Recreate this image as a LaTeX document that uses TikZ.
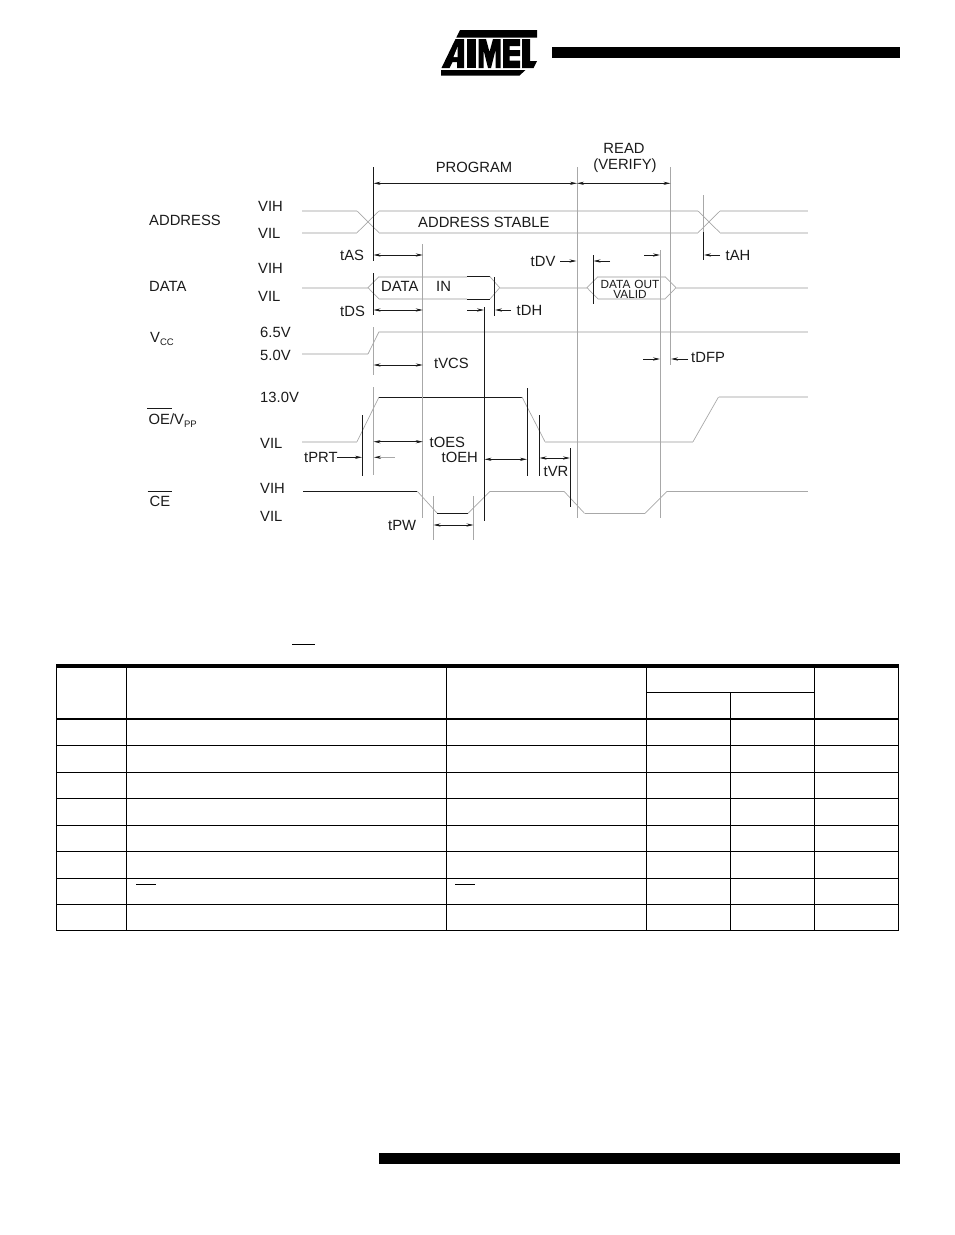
\documentclass[tikz,border=0pt]{standalone}
\usepackage{fontspec}
\setmainfont{Liberation Sans}
\usetikzlibrary{arrows.meta}
\definecolor{lt}{HTML}{DADADA}
\definecolor{md}{HTML}{A8A8A8}
\definecolor{ink}{HTML}{1A1A1A}
\tikzset{
  lbl/.style={anchor=west,inner sep=0pt,text=ink,font=\fontsize{14.8}{14.8}\selectfont},
  lblc/.style={anchor=center,inner sep=0pt,text=ink,font=\fontsize{14.8}{14.8}\selectfont},
  small/.style={anchor=center,inner sep=0pt,text=ink,font=\fontsize{11.8}{11.8}\selectfont},
  soft/.style={draw=lt,line width=1.9pt},
  thin grey/.style={draw=md,line width=0.7pt},
  guide/.style={draw=md,line width=0.9pt},
  hard/.style={draw=ink,line width=0.9pt},
  dim/.style={draw=ink,line width=0.7pt,{Stealth[length=7pt,width=3.2pt]}-{Stealth[length=7pt,width=3.2pt]}},
  dimr/.style={draw=ink,line width=0.7pt,-{Stealth[length=7pt,width=3.2pt]}},
  rule/.style={draw=black,line width=1pt},
}
\begin{document}
\begin{tikzpicture}[x=1pt,y=-1pt]
\useasboundingbox (0,0) rectangle (954,1235);
% header / footer bars
\fill (552,47.3) rectangle (900,58.3);
\fill (379,1153.3) rectangle (900,1164.3);
% logo
\fill (460,30)--(537,30)--(537,37.5)--(456.3,37.5)--cycle;
\fill (455.5,39)--(464,39)--(464,68)--(457,68)--(457,62)--(452.5,62)--(449.5,68)--(441.5,68)--cycle;
\fill[white] (457.5,47)--(457.5,57)--(453.5,57)--cycle;
\fill (466.5,39)--(476,39)--(476,68)--(466.5,68)--cycle;
\fill (478.5,39)--(486,39)--(489.5,52)--(493,39)--(500.5,39)--(500.5,68)--(495.5,68)--(495.5,50)--(491,68)--(488,68)--(483.5,50)--(483.5,68)--(478.5,68)--cycle;
\fill (503,39)--(520,39)--(520,46)--(509.5,46)--(509.5,50)--(520,50)--(520,56)--(509.5,56)--(509.5,60.5)--(520,60.5)--(520,68)--(503,68)--cycle;
\fill (522,39)--(530,39)--(530,61)--(537,61)--(533.5,68)--(522,68)--cycle;
\fill (441,70)--(525.5,70)--(519.5,75.5)--(441,75.5)--cycle;

% ---- signals
% address
\draw[soft] (302,211)--(357,211) (302,232.7)--(357,232.7);
\draw[thin grey] (357,211)--(379,232.7) (357,232.7)--(379,211);
\draw[soft] (379,211)--(698,211) (379,232.7)--(698,232.7);
\draw[thin grey] (698,211)--(720,232.7) (698,232.7)--(720,211);
\draw[soft] (720,211)--(807.5,211) (720,232.7)--(807.5,232.7);
% data
\draw[soft] (302,287.7)--(368,287.7);
\draw[thin grey] (379,276.7)--(368,287.7)--(379,299);
\draw[soft] (379,276.7)--(467,276.7) (379,299)--(467,299);
\draw[hard] (467,276.7)--(490,276.7) (467,299)--(490,299);
\draw[thin grey] (490,276.7)--(499.7,287.7)--(490,299);
\draw[soft] (499.7,287.7)--(587,287.7);
\draw[thin grey] (598,276.7)--(587,287.7)--(598,299);
\draw[soft] (598,276.7)--(665,276.7) (598,299)--(665,299);
\draw[thin grey] (665,276.7)--(676,287.7)--(665,299);
\draw[soft] (676,287.7)--(807.5,287.7);
% vcc
\draw[soft] (302,354)--(368,354);
\draw[thin grey] (368,354)--(379,331.7);
\draw[soft] (379,331.7)--(807.5,331.7);
% oe
\draw[soft] (302,441.7)--(357,441.7);
\draw[thin grey] (357,441.7)--(379,397);
\draw[hard] (379,397)--(522,397);
\draw[thin grey] (522,397)--(545,441.7);
\draw[soft] (545,441.7)--(693,441.7);
\draw[thin grey] (693,441.7)--(718.5,397);
\draw[soft] (718.5,397)--(807.5,397);
% ce
\draw[hard] (303,491.3)--(417.3,491.3);
\draw[thin grey] (417.3,491.3)--(437.3,513.3);
\draw[hard] (437.3,513.3)--(468,513.3);
\draw[thin grey] (468,513.3)--(490,491.3);
\draw[guide] (490,491.3)--(564,491.3);
\draw[thin grey] (564,491.3)--(584.5,513.3);
\draw[guide] (584.5,513.3)--(645,513.3);
\draw[thin grey] (645,513.3)--(667,491.3);
\draw[guide] (667,491.3)--(807.5,491.3);

% ---- guides
\draw[hard] (373.5,167)--(373.5,261) (373.5,273)--(373.5,315);
\draw[guide] (373.5,327)--(373.5,375) (373.5,387)--(373.5,475);
\draw[guide] (422.8,244)--(422.8,518);
\draw[hard] (484.5,307)--(484.5,521);
\draw[hard] (494.5,277)--(494.5,316);
\draw[guide] (577,167)--(577,518);
\draw[guide] (670.5,167)--(670.5,365);
\draw[guide] (660.5,250)--(660.5,518);
\draw[hard] (593,255)--(593,304);
\draw[guide] (703.5,195)--(703.5,232);
\draw[hard] (703.5,232)--(703.5,260);
\draw[hard] (362.5,415)--(362.5,476);
\draw[hard] (527,388)--(527,476);
\draw[hard] (539.5,415)--(539.5,476);
\draw[hard] (570,448)--(570,507);
\draw[guide] (433.5,496)--(433.5,539.5);
\draw[guide] (473.5,496)--(473.5,540);

% ---- dimensions
\draw[dim] (373.5,183.3)--(577,183.3);
\draw[dim] (577,183.3)--(670.5,183.3);
\draw[dim] (373.5,255)--(422.8,255);
\draw[dim] (373.5,310)--(422.8,310);
\draw[dimr] (467,310)--(484,310);
\draw[dimr] (511,310)--(495,310);
\draw[dimr] (560,261)--(576.5,261);
\draw[dimr] (610,261)--(593.5,261);
\draw[dimr] (644,255)--(660,255);
\draw[dimr] (720,255)--(704,255);
\draw[dim] (373.5,365)--(422.8,365);
\draw[dimr] (643,359)--(660,359);
\draw[dimr] (688,359)--(671,359);
\draw[dim] (373.5,441.7)--(422.8,441.7);
\draw[dim] (484.5,459.3)--(527,459.3);
\draw[dim] (539.5,458)--(570,458);
\draw[dimr] (337,457.3)--(362,457.3);
\draw[draw=md,line width=0.7pt,-{Stealth[length=7pt,width=3.2pt,color=ink]}] (395,457.3)--(374,457.3);
\draw[dim] (433.5,525)--(473.5,525);

% ---- labels
\node[lblc] (lprog) at (474,167) {PROGRAM};
\node[lblc] (lread) at (624,148.5) {READ};
\node[lblc] (lver) at (625,165.5) {(VERIFY)};
\node[lbl] (laddr) at (149,220) {ADDRESS};
\node[lbl] (vih1) at (258,206) {VIH};
\node[lbl] (vil1) at (258,233) {VIL};
\node[lbl] (vih2) at (258,268.5) {VIH};
\node[lbl] (vil2) at (258,296) {VIL};
\node[lbl] (ldata) at (149,286.5) {DATA};
\node[lbl] (lvcc) at (150,338.5) {V\raisebox{-3pt}{\fontsize{9.5}{9.5}\selectfont CC}};
\node[lbl] (v65) at (260,332) {6.5V};
\node[lbl] (v50) at (260,355) {5.0V};
\node[lbl] (v13) at (260,397.5) {13.0V};
\node[lbl] (loe) at (148.5,421) {OE/V\raisebox{-3pt}{\fontsize{9.5}{9.5}\selectfont PP}};
\node[lbl] (vil3) at (260,443) {VIL};
\node[lbl] (lce) at (149.5,501) {CE};
\node[lbl] (vih4) at (260,488.5) {VIH};
\node[lbl] (vil4) at (260,516) {VIL};
\draw[draw=ink,line width=0.7pt] (147,408.3)--(171.7,408.3) (147.5,491.3)--(172,491.3);
\node[lbl] (tas) at (340,255) {tAS};
\node[lbl] (tds) at (340,311) {tDS};
\node[lbl] (tvcs) at (434,363) {tVCS};
\node[lbl] (toes) at (429.5,442.5) {tOES};
\node[lbl] (toeh) at (441.5,457.5) {tOEH};
\node[lbl] (tprt) at (304,457.5) {tPRT};
\node[lbl] (tpw) at (388,525) {tPW};
\node[lbl] (tvr) at (543.5,471) {tVR};
\node[lbl] (tdh) at (516.5,310.5) {tDH};
\node[lbl] (tah) at (725.5,255.5) {tAH};
\node[lbl] (tdv) at (530.5,261) {tDV};
\node[lbl] (tdfp) at (691,357) {tDFP};
\node[lbl] (lstable) at (418,222) {ADDRESS STABLE};
\node[lbl] (ldin) at (381,286.5) {DATA};
\node[lbl] (lin) at (436,286.5) {IN};
\node[small] (ldo1) at (630,284) {DATA\hspace{4pt}OUT};
\node[small] (ldo2) at (630,294) {VALID};

% ---- table
\fill (56,664.3) rectangle (898.5,667.7);
\draw[rule] (56.5,664.5)--(56.5,930.5) (126.5,667)--(126.5,930.5) (446.5,667)--(446.5,930.5) (646.5,667)--(646.5,930.5) (814.5,667)--(814.5,930.5) (898.5,664.5)--(898.5,930.5);
\draw[rule] (730.5,692.3)--(730.5,930.5);
\draw[rule] (646.5,692.3)--(814.5,692.3);
\draw[draw=black,line width=2pt] (56,719)--(899,719);
\draw[rule] (56,745.3)--(899,745.3) (56,772)--(899,772) (56,798.3)--(899,798.3) (56,825.3)--(899,825.3) (56,851.3)--(899,851.3) (56,878.3)--(899,878.3) (56,904.3)--(899,904.3) (56,930.3)--(899,930.3);
\draw[rule] (292.3,644.3)--(315,644.3) (136,884)--(156,884) (455,884)--(475,884);
\end{tikzpicture}
\end{document}
